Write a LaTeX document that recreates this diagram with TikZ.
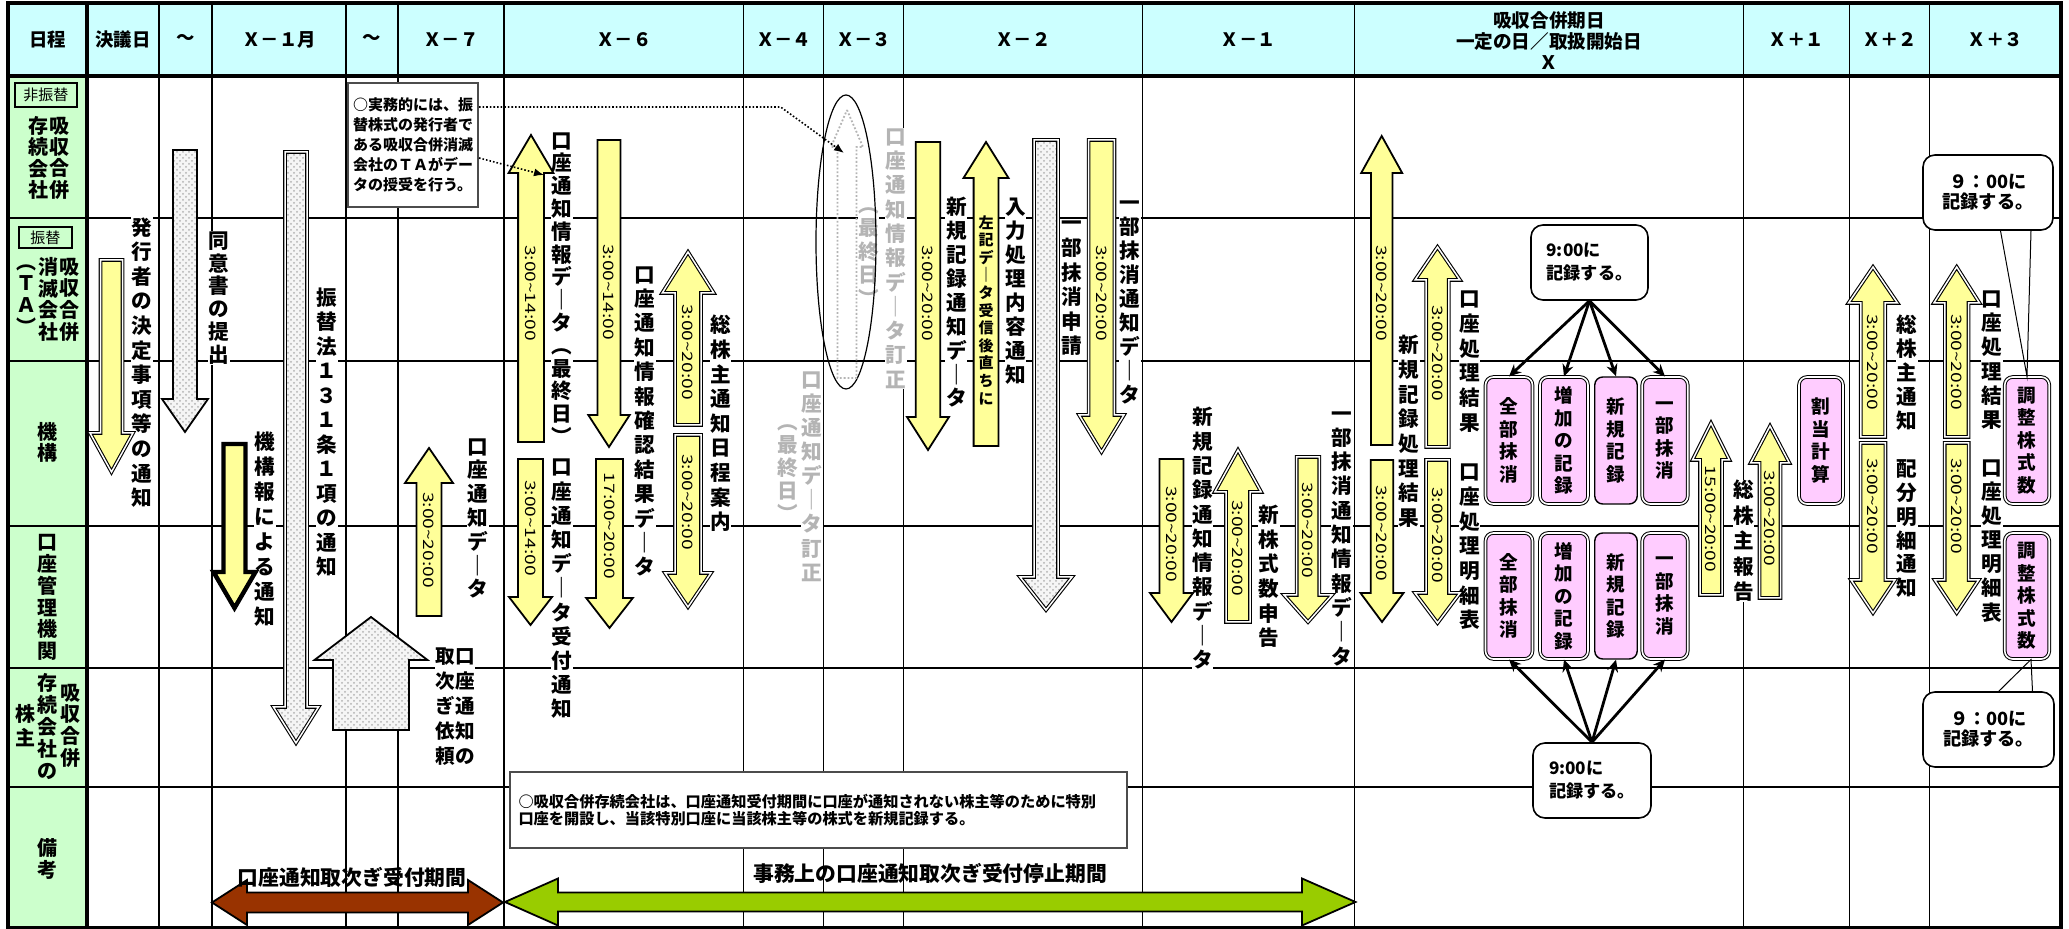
\documentclass[tikz,border=0pt]{standalone}
\usepackage{fontspec}
\usepackage{graphicx}
\setmainfont{Noto Sans CJK JP}
\usetikzlibrary{arrows.meta,patterns}
\definecolor{yel}{HTML}{FFFF99}
\definecolor{pnk}{HTML}{FFCCFF}
\definecolor{hdr}{HTML}{CCFFFF}
\definecolor{lft}{HTML}{CCFFCC}
\definecolor{brn}{HTML}{993300}
\definecolor{grn}{HTML}{99CC00}
\definecolor{gry}{HTML}{F5F5F5}
\definecolor{gtx}{HTML}{B4B4B4}
\makeatletter
\def\vs#1{\vs@a#1\relax}
\def\vs@a#1#2\relax{#1\ifx\relax#2\relax\expandafter\@gobble\else\expandafter\@firstofone\fi{\\\vs@a#2\relax}}
\makeatother
\newcommand\barrow[7][]{\path[#1] (#2,#3) -- ({#2+#6},#4) -- ({#2+#7},#4) -- ({#2+#7},#5) -- ({#2-#7},#5) -- ({#2-#7},#4) -- ({#2-#6},#4) -- cycle;}
\newcommand\harrow[8][]{\path[#1] (#3,#2) -- (#4,{#2-#7}) -- (#4,{#2-#8}) -- (#5,{#2-#8}) -- (#5,{#2-#7}) -- (#6,#2) -- (#5,{#2+#7}) -- (#5,{#2+#8}) -- (#4,{#2+#8}) -- (#4,{#2+#7}) -- cycle;}
\newcommand\tlab[4]{\node[tl] (#1) at (#2,#3) {\scalebox{1}[0.75]{#4}};}
\newcommand\vtn[6][]{\node[vt,font=\bfseries\fontsize{10.3}{#5}\selectfont,#1] (#2) at (#3,#4) {\vs{#6}};}
\begin{document}
\begin{tikzpicture}[x=0.5pt,y=-0.5pt,
  grid/.style={line width=0.6pt},
  hd/.style={font=\bfseries\fontsize{9.2}{11}\selectfont, inner sep=0pt},
  vt/.style={align=center, inner sep=0.3pt, fill=white},
  tl/.style={rotate=-90, inner sep=0pt, font=\fontsize{9.6}{10}\selectfont},
  ya/.style={fill=yel, draw=black, line width=0.9pt, line join=miter},
  yd/.style={fill=yel, draw=black, double=white, line width=0.55pt, double distance=0.75pt, line join=miter},
  yh/.style={fill=yel, draw=black, line width=2.2pt, line join=miter},
  ga/.style={preaction={fill=gry}, preaction={pattern=crosshatch dots, pattern color=black!30}, draw=black, line width=0.9pt, line join=miter},
  gd/.style={preaction={fill=gry}, preaction={pattern=crosshatch dots, pattern color=black!30}, draw=black, double=white, line width=0.55pt, double distance=0.75pt, line join=miter},
  gdot/.style={draw=gtx, densely dotted, line width=0.9pt},
  pb/.style={draw=black, double=white, line width=0.5pt, double distance=0.8pt, rounded corners=4pt, fill=pnk, align=center, inner sep=0pt, font=\bfseries\fontsize{9.3}{11.25}\selectfont, minimum height=63.5pt},
  pbs/.style={pb, double=none, line width=0.7pt},
  co/.style={draw=black, line width=0.8pt, rounded corners=6pt, fill=white, inner sep=2pt},
  conn/.style={line width=1.4pt, -{Stealth[length=6pt,width=5.5pt]}},
  dotc/.style={densely dotted, line width=0.8pt, -{Latex[length=5pt,width=4pt]}},
  ptr/.style={line width=0.5pt},
]
\useasboundingbox (0,0) rectangle (2069,929);
\fill[white] (0,0) rectangle (2069,929);
\fill[hdr] (8,3) rectangle (2061,76);
\fill[lft] (8,76) rectangle (87,928);
\foreach \y in {218,361,526,668,787} \draw[line width=0.8pt] (8,\y) -- (2061,\y);
\foreach \x in {159,212,346,398,504,743.5,823.7,903.6,1142.2,1354.7,1743.4,1849.7,1929.7} \draw[grid] (\x,3) -- (\x,928);
\draw[line width=2pt] (8,76) -- (2061,76);
\draw[line width=2pt] (87,3) -- (87,928);
\draw[line width=2pt] (8,3) rectangle (2061,928);

% header
\node[hd] (h0) at (47.5,40) {日程};
\node[hd] (h1) at (123,40) {決議日};
\node[hd] (h2) at (185.5,40) {～};
\node[hd] (h3) at (279,40) {Ｘ－１月};
\node[hd] (h4) at (372,40) {～};
\node[hd] (h5) at (451,40) {Ｘ－７};
\node[hd] (h6) at (624,40) {Ｘ－６};
\node[hd] (h7) at (783.6,40) {Ｘ－４};
\node[hd] (h8) at (863.6,40) {Ｘ－３};
\node[hd] (h9) at (1023,40) {Ｘ－２};
\node[hd] (h10) at (1248.5,40) {Ｘ－１};
\node[hd, align=center, font=\bfseries\fontsize{9.3}{10.5}\selectfont] (h11) at (1549,41) {吸収合併期日\\一定の日／取扱開始日\\Ｘ};
\node[hd] (h12) at (1796.5,40) {Ｘ＋１};
\node[hd] (h13) at (1889.7,40) {Ｘ＋２};
\node[hd] (h14) at (1995.4,40) {Ｘ＋３};

% left column
\node[draw, line width=0.6pt, inner sep=1pt, minimum width=31pt, minimum height=12pt, fill=lft, font=\fontsize{7.5}{8}\selectfont] (lb1) at (46,95) {非振替};
\node[draw, line width=0.6pt, inner sep=1pt, minimum width=26.5pt, minimum height=10.5pt, fill=lft, font=\fontsize{7.5}{8}\selectfont] (lb2) at (45.5,237.5) {振替};
\vtn[fill=none,font=\bfseries\fontsize{10}{10.65}\selectfont]{l1a}{38}{158}{10.65}{存続会社}
\vtn[fill=none,font=\bfseries\fontsize{10}{10.65}\selectfont]{l1b}{59}{158}{10.65}{吸収合併}
\vtn[fill=none,font=\bfseries\fontsize{10}{10.85}\selectfont]{l2a}{27}{299.5}{10.85}{︵ＴＡ︶}
\vtn[fill=none,font=\bfseries\fontsize{10}{10.85}\selectfont]{l2b}{49}{299.5}{10.85}{消滅会社}
\vtn[fill=none,font=\bfseries\fontsize{10}{10.85}\selectfont]{l2c}{69}{299.5}{10.85}{吸収合併}
\vtn[fill=none,font=\bfseries\fontsize{10}{10.5}\selectfont]{l3}{48}{442.5}{10.5}{機構}
\vtn[fill=none,font=\bfseries\fontsize{10}{10.9}\selectfont]{l4}{48}{597.5}{10.9}{口座管理機関}
\vtn[fill=none,font=\bfseries\fontsize{10}{12}\selectfont]{l5a}{26}{726}{12}{株主}
\vtn[fill=none,font=\bfseries\fontsize{10}{10.9}\selectfont]{l5b}{48}{726.5}{10.9}{存続会社の}
\vtn[fill=none,font=\bfseries\fontsize{10}{10.85}\selectfont]{l5c}{71}{725.5}{10.85}{吸収合併}
\vtn[fill=none,font=\bfseries\fontsize{10}{11}\selectfont]{l6}{48}{859}{11}{備考}

% vertical texts
\vtn{t1}{142}{362.5}{12.3}{発行者の決定事項等の通知}
\vtn{t2}{219}{298}{11.4}{同意書の提出}
\vtn{t3}{327}{432}{12.25}{振替法１３１条１項の通知}
\vtn{t4}{265}{529.5}{12.5}{機構報による通知}
\vtn{t5}{478}{518.5}{11.9}{口座通知デ｜タ}
\vtn[font=\bfseries\fontsize{9.8}{12.5}\selectfont]{t6a}{465}{707}{12.5}{口座通知の}
\vtn[font=\bfseries\fontsize{9.8}{12.5}\selectfont]{t6b}{445}{707}{12.5}{取次ぎ依頼}
\vtn{t7}{562}{288.5}{11.4}{口座通知情報デ｜タ︵最終日︶}
\vtn{t8}{562}{589}{12.1}{口座通知デ｜タ受付通知}
\vtn{t9}{644.6}{421.5}{12.2}{口座通知情報確認結果デ｜タ}
\vtn{t10}{720.4}{423.5}{12.3}{総株主通知日程案内}
\vtn[text=gtx]{t11}{811.6}{476.5}{12.05}{口座通知デ｜タ訂正}
\vtn[text=gtx]{t12}{787.5}{473}{11.5}{︵最終日︶}
\vtn[text=gtx]{t13}{896}{258.5}{12.15}{口座通知情報デ｜タ訂正}
\vtn[text=gtx]{t14}{868.5}{257}{11.75}{︵最終日︶}
\vtn{t15}{956.3}{302.5}{11.95}{新規記録通知デ｜タ}
\vtn{t17}{1015.5}{291}{12}{入力処理内容通知}
\vtn{t18}{1071.7}{288.5}{12.3}{一部抹消申請}
\vtn{t19}{1130.2}{302.5}{11.95}{一部抹消通知デ｜タ}
\vtn{t20}{1202.5}{538.5}{12.15}{新規記録通知情報デ｜タ}
\vtn{t21}{1268.6}{576.5}{12.3}{新株式数申告}
\vtn{t22}{1342}{538.5}{12.15}{一部抹消通知情報デ｜タ}
\vtn{t23}{1409}{431.5}{12.35}{新規記録処理結果}
\vtn{t24}{1469.4}{460.5}{12.35}{口座処理結果　口座処理明細表}
\vtn{t25}{1743.4}{541}{12.75}{総株主報告}
\vtn{t26}{1907}{456.5}{11.95}{総株主通知　配分明細通知}
\vtn{t27}{1992}{456.5}{12.05}{口座処理結果　口座処理明細表}

% ellipse
\draw[line width=0.6pt] (846,242) ellipse [x radius=30, y radius=147];

% block arrows
\barrow[yd]{111.5}{472}{433}{260}{21.5}{11}
\barrow[ga]{185}{432}{399}{150}{23}{12}
\barrow[gd]{296}{743}{707}{152}{22.5}{11}
\barrow[yh]{234.5}{608}{572}{444}{21}{11}
\barrow[ga]{371}{617}{660}{730}{56.5}{38}
\barrow[ya]{429}{448}{483}{616}{24}{12.5}
\barrow[ya]{531}{135}{173}{442}{22.4}{12.9}
\barrow[ya]{530.5}{625}{597}{459}{21.5}{12.5}
\barrow[ya]{609}{447}{415}{140}{20.7}{11.5}
\barrow[ya]{609.5}{628}{598}{459}{23.3}{13.5}
\barrow[yd]{688}{252}{293}{425}{25.8}{13}
\barrow[yd]{688}{607}{573}{435}{23}{13}
\barrow[gdot]{847}{110}{147}{378}{16}{9.5}
\barrow[ya]{928}{450}{417}{142}{21}{12.2}
\barrow[ya]{986}{142}{178}{446}{22.5}{12.4}
\barrow[gd]{1046}{610}{577}{140}{26}{12}
\barrow[yd]{1101.5}{452}{415}{140}{22.4}{12.9}
\barrow[ya]{1171.5}{622}{593}{459}{21.5}{12}
\barrow[yd]{1238}{450}{492}{622}{23.2}{12}
\barrow[yd]{1308}{622}{595}{457}{24}{11.3}
\barrow[ya]{1381.7}{136}{173}{445}{20.5}{10.8}
\barrow[ya]{1382}{622}{593}{460}{21.5}{11.3}
\barrow[yd]{1437.5}{247}{280}{447}{22.5}{11.3}
\barrow[yd]{1437.5}{623}{593}{460}{22.5}{11.5}
\barrow[yd]{1711}{423}{460}{595}{18.5}{11}
\barrow[yd]{1770}{426}{463}{598}{19.4}{10.5}
\barrow[yd]{1873}{267}{303}{437}{24.5}{12.2}
\barrow[yd]{1873}{613}{580}{443}{22}{12.4}
\barrow[yd]{1956.7}{267}{303}{437}{22.8}{11.8}
\barrow[yd]{1956.7}{613}{580}{443}{22}{12}

% arrow labels
\tlab{a7}{429}{540}{3:00\textasciitilde20:00}
\tlab{a1}{531}{293}{3:00\textasciitilde14:00}
\tlab{a2}{530.5}{528}{3:00\textasciitilde14:00}
\tlab{a3}{609}{292}{3:00\textasciitilde14:00}
\tlab{a4}{609.5}{526}{17:00\textasciitilde20:00}
\tlab{a5}{688}{352}{3:00\textasciitilde20:00}
\tlab{a6}{688}{502}{3:00\textasciitilde20:00}
\tlab{a8}{928}{293}{3:00\textasciitilde20:00}
\tlab{a9}{1101.5}{293}{3:00\textasciitilde20:00}
\tlab{a10}{1171.5}{534}{3:00\textasciitilde20:00}
\tlab{a11}{1238}{548}{3:00\textasciitilde20:00}
\tlab{a12}{1308}{530}{3:00\textasciitilde20:00}
\tlab{a13}{1381.7}{293}{3:00\textasciitilde20:00}
\tlab{a14}{1382}{533}{3:00\textasciitilde20:00}
\tlab{a15}{1437.5}{353}{3:00\textasciitilde20:00}
\tlab{a16}{1437.5}{535}{3:00\textasciitilde20:00}
\tlab{a17}{1711}{519}{15:00\textasciitilde20:00}
\tlab{a18}{1770}{518}{3:00\textasciitilde20:00}
\tlab{a19}{1873}{362}{3:00\textasciitilde20:00}
\tlab{a20}{1873}{506}{3:00\textasciitilde20:00}
\tlab{a21}{1956.7}{362}{3:00\textasciitilde20:00}
\tlab{a22}{1956.7}{506}{3:00\textasciitilde20:00}
\vtn[fill=none,font=\bfseries\fontsize{7.5}{8.8}\selectfont]{t16}{986}{310}{8.8}{左記デ｜タ受信後直ちに}

% horizontal arrows
\harrow[fill=brn, draw=black, line width=0.9pt, line join=miter]{902.5}{212}{247}{468}{503}{22.5}{10}
\harrow[fill=grn, draw=black, line width=0.9pt, line join=miter]{902}{505}{558}{1302}{1355.5}{23.5}{9.5}
\node[inner sep=0pt, font=\bfseries\fontsize{10.4}{11}\selectfont] (bl) at (352,877) {口座通知取次ぎ受付期間};
\node[inner sep=0pt, font=\bfseries\fontsize{10.4}{11}\selectfont] (gl) at (930,873) {事務上の口座通知取次ぎ受付停止期間};

% note boxes
\node[draw=black!70, line width=1pt, fill=white, minimum width=65pt, minimum height=62pt, align=left, inner sep=2pt, font=\bfseries\fontsize{7.5}{10}\selectfont] (d1) at (413,145) {○実務的には、振\\替株式の発行者で\\ある吸収合併消滅\\会社のＴＡがデー\\タの授受を行う。};
\draw[dotc] ([yshift=19pt]d1.east) -- (780.6,107) -- (844,153);
\draw[dotc] ([yshift=-6.5pt]d1.east) -- (544,175);
\node[draw=black!70, line width=1pt, fill=white, minimum width=308.5pt, minimum height=38pt, text width=300pt, align=left, inner sep=2pt, font=\bfseries\fontsize{7.6}{8.3}\selectfont] (n1) at (818.5,810) {○吸収合併存続会社は、口座通知受付期間に口座が通知されない株主等のために特別\\口座を開設し、当該特別口座に当該株主等の株式を新規記録する。};

% pink boxes
\node[pb, minimum width=23.5pt] (p1u) at (1509,440.5) {\vs{全部抹消}};
\node[pb, minimum width=24pt] (p2u) at (1564,440.5) {\vs{増加の記録}};
\node[pbs, minimum width=21.25pt] (p3u) at (1616,440.5) {\vs{新規記録}};
\node[pb, minimum width=22.75pt] (p4u) at (1665,440.5) {\vs{一部抹消}};
\node[pb, minimum width=22pt] (p5u) at (1821,440.5) {\vs{割当計算}};
\node[pb, minimum width=22.25pt] (p6u) at (2027,440.5) {\vs{調整株式数}};
\node[pb, minimum width=23.5pt, minimum height=63pt] (p1l) at (1509,596) {\vs{全部抹消}};
\node[pb, minimum width=24pt, minimum height=63pt] (p2l) at (1564,596) {\vs{増加の記録}};
\node[pbs, minimum width=21.25pt, minimum height=63pt] (p3l) at (1616,596) {\vs{新規記録}};
\node[pb, minimum width=22.75pt, minimum height=63pt] (p4l) at (1665,596) {\vs{一部抹消}};
\node[pb, minimum width=22.25pt, minimum height=63pt] (p6l) at (2027,596) {\vs{調整株式数}};

% callouts
\node[co, minimum width=58.5pt, minimum height=37.5pt, align=left, font=\bfseries\fontsize{8.6}{11.5}\selectfont] (c1) at (1589.5,262.5) {9:00に\\記録する。};
\node[co, minimum width=59pt, minimum height=37.5pt, align=left, font=\bfseries\fontsize{8.6}{11.5}\selectfont] (c2) at (1592,780.5) {9:00に\\記録する。};
\node[co, minimum width=65pt, minimum height=37.5pt, align=center, font=\bfseries\fontsize{9.1}{10}\selectfont] (c3) at (1988,192.5) {９：00に\\記録する。};
\node[co, minimum width=65.5pt, minimum height=37.5pt, align=center, font=\bfseries\fontsize{9.1}{10}\selectfont] (c4) at (1988.5,729.5) {９：00に\\記録する。};
\foreach \b in {p1u,p2u,p3u,p4u} \draw[conn] (c1.south) -- (\b.north);
\foreach \b in {p1l,p2l,p3l,p4l} \draw[conn] (c2.north) -- (\b.south);
\draw[ptr] ([xshift=6.25pt]c3.south) -- (p6u.north) -- ([xshift=21.5pt]c3.south);
\draw[ptr] ([xshift=5.15pt]c4.north) -- ([xshift=2pt]p6l.south) -- ([xshift=22pt]c4.north);
\end{tikzpicture}
\end{document}
